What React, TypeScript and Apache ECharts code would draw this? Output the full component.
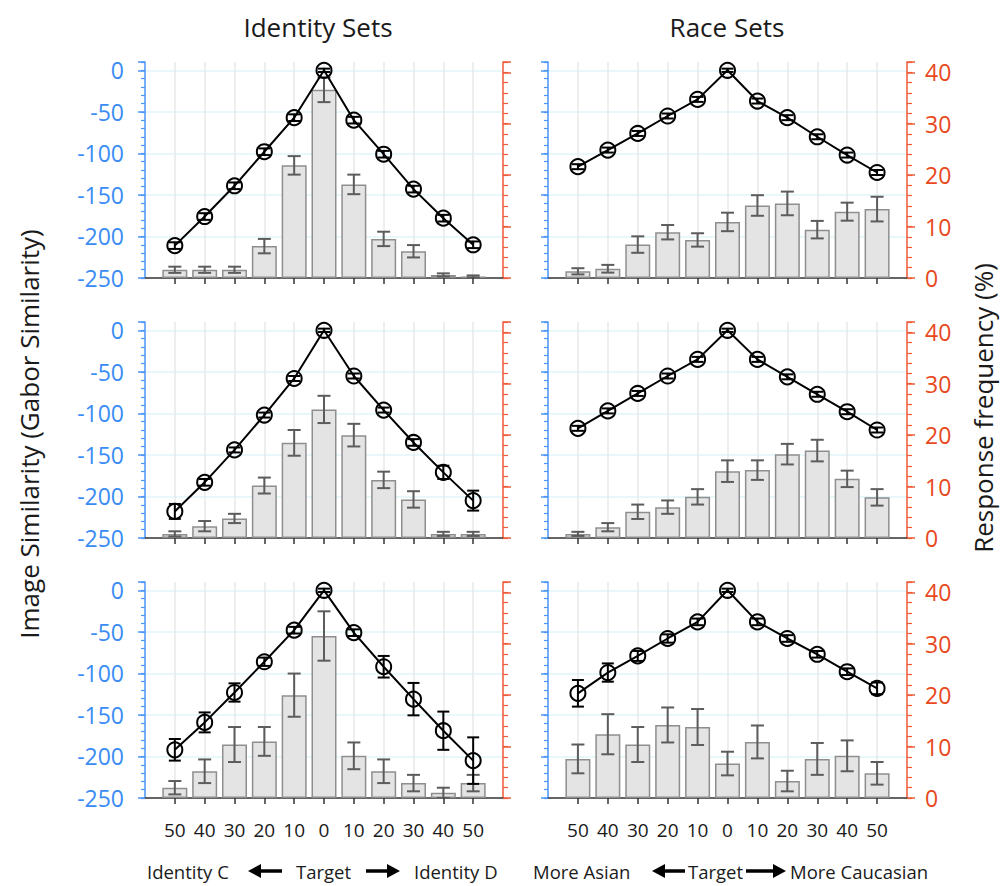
import React, { useEffect, useRef } from "react";
import * as echarts from "echarts";

// ---- labels ----
const steps = ["50", "40", "30", "20", "10", "0", "10", "20", "30", "40", "50"];
const columnTitles = ["Identity Sets", "Race Sets"];
const leftAxisTitle = "Image Similarity (Gabor Similarity)";
const rightAxisTitle = "Response frequency (%)";
const identityCaption = ["Identity C", "Target", "Identity D"];
const raceCaption = ["More Asian", "Target", "More Caucasian"];

// ---- row 1 ----
const idLine1 = [-211, -176, -139, -98, -57, 0, -60, -101, -143, -178, -210];
const idLine1Err = [4, 4, 4, 4, 4, 2, 4, 4, 4, 4, 4];
const idBar1 = [1.6, 1.6, 1.6, 6.2, 21.9, 36.6, 18.2, 7.6, 5.2, 0.6, 0.3];
const idBar1Err = [0.6, 0.6, 0.6, 1.4, 1.8, 2.4, 1.9, 1.4, 1.2, 0.3, 0.2];

const raceLine1 = [-116, -96, -76, -55, -35, 0, -37, -57, -80, -102, -123];
const raceLine1Err = [3, 3, 3, 3, 3, 2, 3, 3, 3, 3, 3];
const raceBar1 = [1.3, 1.8, 6.5, 8.9, 7.4, 10.9, 14.1, 14.5, 9.4, 12.9, 13.4];
const raceBar1Err = [0.6, 0.75, 1.6, 1.4, 1.3, 1.8, 2.0, 2.3, 1.7, 1.75, 2.4];

// ---- row 2 ----
const idLine2 = [-218, -183, -144, -102, -58, 0, -55, -96, -135, -171, -205];
const idLine2Err = [9, 4, 3, 3, 3, 2, 3, 3, 4, 8, 12];
const idBar2 = [0.8, 2.3, 3.8, 10.2, 18.5, 25.0, 20.0, 11.3, 7.5, 0.8, 0.8];
const idBar2Err = [0.5, 1.0, 0.9, 1.55, 2.5, 2.65, 2.2, 1.6, 1.6, 0.4, 0.4];

const raceLine2 = [-118, -97, -76, -55, -35, 0, -35, -56, -77, -98, -120];
const raceLine2Err = [3, 3, 3, 3, 3, 2, 3, 3, 3, 3, 3];
const raceBar2 = [0.8, 2.1, 5.1, 6.0, 8.0, 13.0, 13.2, 16.3, 17.0, 11.5, 7.9];
const raceBar2Err = [0.4, 0.8, 1.4, 1.3, 1.5, 2.1, 1.9, 2.0, 2.1, 1.6, 1.6];

// ---- row 3 ----
const idLine3 = [-192, -159, -123, -86, -48, 0, -51, -92, -131, -169, -205];
const idLine3Err = [13, 12, 11, 5, 4, 2, 4, 13, 19.5, 23, 28];
const idBar3 = [2.0, 5.2, 10.4, 11.0, 20.0, 31.5, 8.2, 5.2, 2.9, 1.0, 2.9];
const idBar3Err = [1.3, 2.3, 3.4, 2.8, 4.2, 4.8, 2.6, 2.3, 1.6, 1.0, 1.6];

const raceLine3 = [-124, -99, -79, -58, -38, 0, -38, -58, -77, -98, -118];
const raceLine3Err = [16, 11, 6, 5, 4, 2, 4, 4, 4, 4, 7];
const raceBar3 = [7.6, 12.4, 10.4, 14.2, 13.8, 6.7, 10.9, 3.3, 7.6, 8.2, 4.8];
const raceBar3Err = [2.8, 3.9, 3.4, 3.4, 3.5, 2.3, 3.2, 2.0, 3.1, 3.0, 2.2];

const panels = [
  { line: idLine1, lineErr: idLine1Err, bar: idBar1, barErr: idBar1Err },
  { line: raceLine1, lineErr: raceLine1Err, bar: raceBar1, barErr: raceBar1Err },
  { line: idLine2, lineErr: idLine2Err, bar: idBar2, barErr: idBar2Err },
  { line: raceLine2, lineErr: raceLine2Err, bar: raceBar2, barErr: raceBar2Err },
  { line: idLine3, lineErr: idLine3Err, bar: idBar3, barErr: idBar3Err },
  { line: raceLine3, lineErr: raceLine3Err, bar: raceBar3, barErr: raceBar3Err },
];

const FONT = "'Open Sans', 'Noto Sans', sans-serif";
const BLUE = "#4a95f6";
const BLUE_TXT = "#3a8cf5";
const ORANGE = "#ee5a36";
const ORANGE_TXT = "#e8481d";
const TEXT = "#1a1a1a";

const colLeft = [145, 548];
const colWidth = [358, 359];
const rowTop = [62, 322, 582];
const GRID_H = 216;

function errorSeries(gi: number, yAxisIndex: number, vals: number[], errs: number[], color: string, cap: number, width: number, z: number) {
  return {
    type: "custom",
    xAxisIndex: gi,
    yAxisIndex,
    z,
    clip: true,
    silent: true,
    encode: { x: 0, y: 1 },
    data: vals.map((v, i) => [i + 1, v, errs[i]]),
    renderItem: (params: any, api: any) => {
      const x = api.value(0);
      const v = api.value(1);
      const e = api.value(2);
      const top = api.coord([x, v + e]);
      const bot = api.coord([x, v - e]);
      const h = cap / 2;
      const style = { stroke: color, lineWidth: width, fill: "none" };
      return {
        type: "group",
        children: [
          { type: "line", shape: { x1: top[0], y1: top[1], x2: bot[0], y2: bot[1] }, style },
          { type: "line", shape: { x1: top[0] - h, y1: top[1], x2: top[0] + h, y2: top[1] }, style },
          { type: "line", shape: { x1: bot[0] - h, y1: bot[1], x2: bot[0] + h, y2: bot[1] }, style },
        ],
      };
    },
  };
}

function arrow(x0: number, x1: number, y: number, dir: number) {
  const head = 13;
  const hh = 7;
  const sh = 1.8;
  let pts: number[][];
  if (dir > 0) {
    pts = [
      [x0, y - sh], [x1 - head, y - sh], [x1 - head, y - hh], [x1, y],
      [x1 - head, y + hh], [x1 - head, y + sh], [x0, y + sh],
    ];
  } else {
    pts = [
      [x1, y - sh], [x0 + head, y - sh], [x0 + head, y - hh], [x0, y],
      [x0 + head, y + hh], [x0 + head, y + sh], [x1, y + sh],
    ];
  }
  return { type: "polygon", shape: { points: pts }, style: { fill: "#000" } };
}

export default function App() {
  const ref = useRef<HTMLDivElement>(null);
  useEffect(() => {
    if (!ref.current) return;
    const chart = echarts.init(ref.current, undefined, { renderer: "svg" });

    const grid: any[] = [];
    const xAxis: any[] = [];
    const yAxis: any[] = [];
    const series: any[] = [];
    const catData = ["s", ...steps.map((_, i) => "c" + i), "e"];

    for (let gi = 0; gi < 6; gi++) {
      const row = Math.floor(gi / 2);
      const col = gi % 2;
      grid.push({ left: colLeft[col], top: rowTop[row], width: colWidth[col], height: GRID_H });
      xAxis.push({
        type: "category",
        gridIndex: gi,
        position: "bottom",
        data: catData,
        boundaryGap: false,
        axisLine: { show: true, onZero: false, lineStyle: { color: "#333", width: 1.5 } },
        axisTick: {
          show: true,
          interval: (i: number) => i >= 1 && i <= 11,
          length: 6,
          lineStyle: { color: "#333", width: 1.5 },
        },
        axisLabel: {
          show: row === 2,
          interval: 0,
          margin: 22,
          fontSize: 19,
          fontFamily: FONT,
          color: TEXT,
          formatter: (_v: string, idx: number) => (idx >= 1 && idx <= 11 ? steps[idx - 1] : ""),
        },
        splitLine: {
          show: true,
          interval: (i: number) => i >= 1 && i <= 11,
          lineStyle: { color: "#e8e8e8", width: 1.5 },
        },
      });
      const base = gi * 4;
      // blue major
      yAxis.push({
        type: "value",
        gridIndex: gi,
        position: "left",
        min: -250,
        max: 10,
        interval: 50,
        axisLine: { show: true, lineStyle: { color: BLUE, width: 1.5 } },
        axisTick: { show: true, length: 7, lineStyle: { color: BLUE, width: 1.5 } },
        axisLabel: {
          show: col === 0,
          margin: 21,
          fontSize: 23,
          fontFamily: FONT,
          color: BLUE_TXT,
          formatter: (v: number) => (v > 0 ? "" : String(v)),
        },
        splitLine: {
          show: true,
          showMaxLine: false,
          showMinLine: false,
          lineStyle: { color: "#e1f5f8", width: 1.5 },
        },
      });
      // blue minor
      yAxis.push({
        type: "value",
        gridIndex: gi,
        position: "left",
        min: -250,
        max: 10,
        interval: 10,
        axisLine: { show: false },
        axisTick: { show: true, length: 4, lineStyle: { color: BLUE, width: 1.2 } },
        axisLabel: { show: false },
        splitLine: { show: false },
      });
      // orange major
      yAxis.push({
        type: "value",
        gridIndex: gi,
        position: "right",
        min: 0,
        max: 42,
        interval: 10,
        axisLine: { show: true, lineStyle: { color: ORANGE, width: 1.5 } },
        axisTick: { show: true, length: 8, lineStyle: { color: ORANGE, width: 1.5 } },
        axisLabel: {
          show: col === 1,
          margin: 18,
          fontSize: 23,
          fontFamily: FONT,
          color: ORANGE_TXT,
          formatter: (v: number) => (v > 40.5 ? "" : String(v)),
        },
        splitLine: { show: false },
      });
      // orange minor
      yAxis.push({
        type: "value",
        gridIndex: gi,
        position: "right",
        min: 0,
        max: 42,
        interval: 2,
        axisLine: { show: false },
        axisTick: { show: true, length: 5, lineStyle: { color: ORANGE, width: 1.2 } },
        axisLabel: { show: false },
        splitLine: { show: false },
      });

      const p = panels[gi];
      series.push({
        type: "bar",
        xAxisIndex: gi,
        yAxisIndex: base + 2,
        barWidth: 25,
        z: 2,
        silent: true,
        data: p.bar.map((v, i) => [i + 1, v]),
        itemStyle: { color: "#e4e4e4", borderColor: "#8e8e8e", borderWidth: 1.5 },
      });
      series.push(errorSeries(gi, base + 2, p.bar, p.barErr, "#5c5c5c", 13, 2, 3));
      series.push({
        type: "line",
        xAxisIndex: gi,
        yAxisIndex: base,
        z: 5,
        silent: true,
        data: p.line.map((v, i) => [i + 1, v]),
        symbol: "circle",
        symbolSize: 15,
        showSymbol: true,
        lineStyle: { color: "#000", width: 2 },
        itemStyle: { color: "rgba(0,0,0,0)", borderColor: "#000", borderWidth: 2 },
      });
      series.push(errorSeries(gi, base, p.line, p.lineErr, "#000", 12, 2, 6));
    }

    const cy = 871;
    const capStyle = { fontSize: 18.5, fontFamily: FONT, fill: TEXT, verticalAlign: "middle", align: "left" };
    const graphic: any[] = [
      { type: "text", x: 318, y: 27, style: { text: columnTitles[0], fontSize: 26, fontFamily: FONT, fill: TEXT, align: "center", verticalAlign: "middle" } },
      { type: "text", x: 727, y: 27, style: { text: columnTitles[1], fontSize: 26, fontFamily: FONT, fill: TEXT, align: "center", verticalAlign: "middle" } },
      { type: "text", x: 29, y: 434, rotation: Math.PI / 2, style: { text: leftAxisTitle, fontSize: 26, fontFamily: FONT, fill: TEXT, align: "center", verticalAlign: "middle" } },
      { type: "text", x: 983, y: 408, rotation: Math.PI / 2, style: { text: rightAxisTitle, fontSize: 26, fontFamily: FONT, fill: TEXT, align: "center", verticalAlign: "middle" } },
      { type: "text", x: 147, y: cy, style: { ...capStyle, text: identityCaption[0] } },
      arrow(248, 282, cy, -1),
      { type: "text", x: 296, y: cy, style: { ...capStyle, text: identityCaption[1] } },
      arrow(366, 400, cy, 1),
      { type: "text", x: 414, y: cy, style: { ...capStyle, text: identityCaption[2] } },
      { type: "text", x: 533, y: cy, style: { ...capStyle, text: raceCaption[0] } },
      arrow(652, 685, cy, -1),
      { type: "text", x: 688, y: cy, style: { ...capStyle, text: raceCaption[1] } },
      arrow(746, 786, cy, 1),
      { type: "text", x: 790, y: cy, style: { ...capStyle, text: raceCaption[2] } },
    ];

    chart.setOption({
      animation: false,
      backgroundColor: "#fff",
      grid,
      xAxis,
      yAxis,
      series,
      graphic,
    });
    return () => chart.dispose();
  }, []);

  return (
    <div
      ref={ref}
      style={{ position: "fixed", left: 0, top: 0, width: 1003, height: 886 }}
    />
  );
}
